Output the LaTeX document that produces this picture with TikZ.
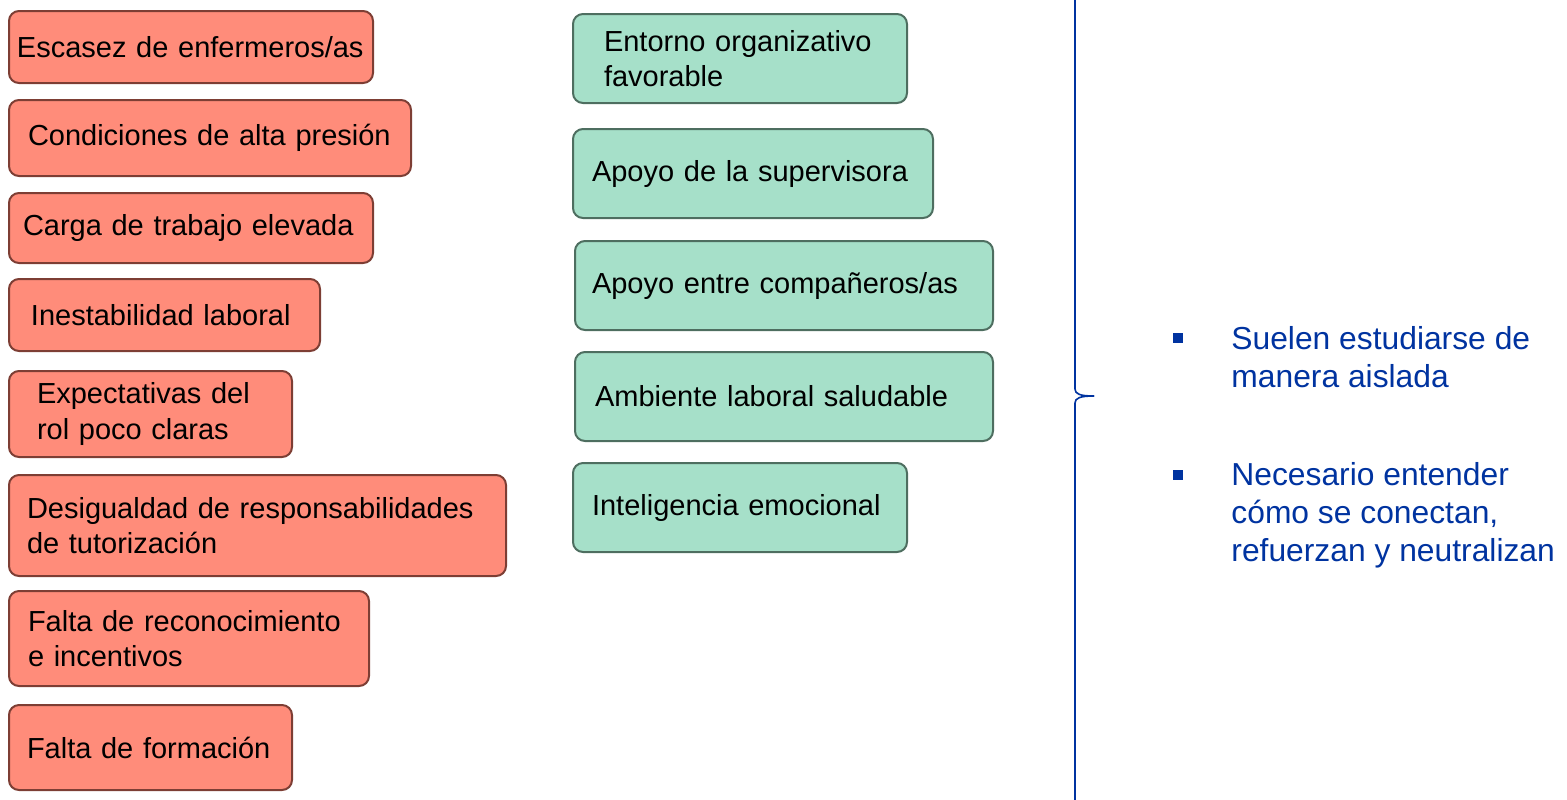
\documentclass[tikz,border=0pt]{standalone}
\usepackage{fontspec}
\setmainfont{Liberation Sans}
\usepackage{tikz}

\definecolor{rojo}{RGB}{255,140,122}
\definecolor{rojoborde}{RGB}{125,62,52}
\definecolor{verde}{RGB}{166,224,201}
\definecolor{verdeborde}{RGB}{78,110,96}
\definecolor{azul}{RGB}{0,51,160}

\begin{document}
\begin{tikzpicture}[
    x=0.5pt, y=-0.5pt,
    caja/.style = {rounded corners=5pt, line width=1pt, anchor=north west,
      align=left, inner ysep=0pt, font=\fontsize{14.5}{17.8}\selectfont},
    riesgo/.style = {caja, fill=rojo, draw=rojoborde},
    protector/.style = {caja, fill=verde, draw=verdeborde},
    dim/.style n args = {3}{minimum width=#1*0.5pt, minimum height=#2*0.5pt,
      inner xsep=#3*0.5pt, text width=(#1-2*#3)*0.5pt},
    vineta/.style = {fill=azul, inner sep=0pt, minimum size=5pt},
    nota/.style = {anchor=base west, align=left, text=azul, inner sep=0pt,
      font=\fontsize{15.9}{18.8}\selectfont},
    llave/.style = {draw=azul, line width=0.8pt}
  ]
  \useasboundingbox (0,0) rectangle (1567,799);

  % Factores de riesgo
  \node[riesgo, dim={364}{72}{8}] (escasez) at (8,10) {Escasez de enfermeros/as};
  \node[riesgo, dim={402}{76}{19}] (presion) at (8,99) {Condiciones de alta presión};
  \node[riesgo, dim={364}{70}{14}] (carga) at (8,192) {Carga de trabajo elevada};
  \node[riesgo, dim={311}{72}{22}] (inestab) at (8,278) {Inestabilidad laboral};
  \node[riesgo, dim={283}{86}{28}] (rol) at (8,370) {Expectativas del\\rol poco claras};
  \node[riesgo, dim={497}{101}{18}] (tutor) at (8,474) {Desigualdad de responsabilidades\\de tutorización};
  \node[riesgo, dim={360}{95}{19}] (reconoc) at (8,590) {Falta de reconocimiento\\e incentivos};
  \node[riesgo, dim={283}{85}{18}] (formacion) at (8,704) {Falta de formación};

  % Factores protectores
  \node[protector, dim={334}{89}{31}] (entorno) at (572,13) {Entorno organizativo\\favorable};
  \node[protector, dim={360}{89}{19}] (superv) at (572,128) {Apoyo de la supervisora};
  \node[protector, dim={418}{89}{17}] (companeros) at (574,240) {Apoyo entre compañeros/as};
  \node[protector, dim={418}{89}{20}] (ambiente) at (574,351) {Ambiente laboral saludable};
  \node[protector, dim={334}{89}{19}] (emocional) at (572,462) {Inteligencia emocional};

  % Llave
  \coordinate (punta) at (1094,396);
  \draw[llave] (1075,-2) -- (1075,389) .. controls (1075,394) and (1080,396) .. (punta);
  \draw[llave] (punta) .. controls (1080,396) and (1075,398) .. (1075,403) -- (1075,801);

  % Notas
  \node[vineta] (v1) at (1178,338) {};
  \node[nota] (aislada) at (1231,387.5) {Suelen estudiarse de\\manera aislada};
  \node[vineta] (v2) at (1178,474.5) {};
  \node[nota] (conectan) at (1231,561) {Necesario entender\\cómo se conectan,\\refuerzan y neutralizan};

\end{tikzpicture}
\end{document}
